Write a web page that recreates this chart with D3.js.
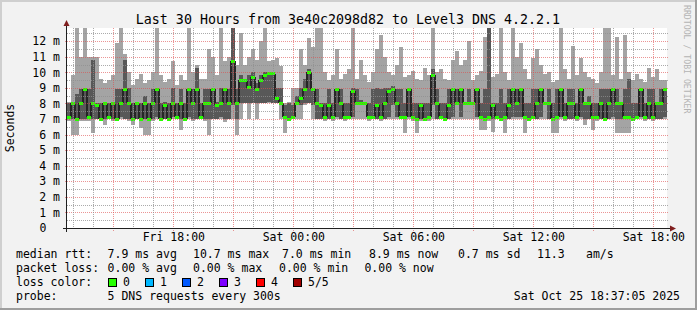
<!DOCTYPE html>
<html><head><meta charset="utf-8">
<script src="https://cdn.jsdelivr.net/npm/d3@7"></script>
<style>
body{margin:0;background:#f2f2f2}
svg{display:block}
text{font-family:"DejaVu Sans Mono",monospace}
</style>
</head><body>
<svg id="chart" width="697" height="310"></svg>
<script>
// ---------- data ----------
const titleText = "Last 30 Hours from 3e40c2098d82 to Level3 DNS 4.2.2.1";
const startTime = new Date(2025, 9, 24, 12, 41);
const endTime = new Date(2025, 9, 25, 18, 41);
const stepMinutes = 12;

const pingMin = [
 6.9,6.0,6.0,6.9,6.9,6.9,6.1,7.0,7.0,6.6,
 7.0,6.9,6.9,7.0,7.0,6.9,6.6,7.0,6.4,6.0,
 6.0,6.9,7.0,6.9,7.0,6.9,7.0,7.0,6.3,7.0,
 7.0,6.9,7.0,7.0,6.9,6.0,7.0,7.0,7.0,6.8,
 7.0,7.0,6.0,7.0,8.0,7.0,8.0,7.0,8.0,8.0,
 8.0,8.0,8.0,7.0,6.1,6.9,7.0,7.0,7.0,7.9,
 8.0,7.0,7.0,7.0,6.9,7.0,6.9,7.0,7.0,6.9,
 7.0,7.0,7.0,7.0,7.0,6.9,7.0,7.0,6.9,7.0,
 7.0,7.0,7.0,7.0,6.1,7.0,6.9,6.1,6.9,7.0,
 6.9,7.0,7.0,7.0,6.9,7.0,7.0,7.0,7.0,7.0,
 7.0,7.0,7.0,6.3,6.3,6.9,6.2,7.0,6.9,6.1,
 7.0,7.0,7.0,7.0,6.1,6.9,7.0,7.0,7.0,7.0,
 7.0,6.1,6.1,7.0,6.9,7.0,7.0,6.9,7.0,6.6,
 7.0,6.3,6.9,7.0,6.9,7.0,7.0,6.1,6.1,6.1,
 6.1,6.9,7.0,7.0,6.9,7.0,6.9,7.0,7.0,7.0
];
const pingLow = [
 7.0,7.0,7.0,7.0,7.0,7.0,7.0,7.0,7.0,7.0,
 7.0,7.0,7.0,7.1,7.0,7.0,7.0,7.0,7.0,7.0,
 7.0,7.0,7.1,7.0,7.0,7.0,7.1,7.0,7.0,7.0,
 7.1,7.0,7.0,7.0,7.0,7.0,7.0,7.0,7.1,7.0,
 7.0,7.9,7.0,8.0,8.0,8.0,8.0,8.0,8.0,8.0,
 8.1,8.0,8.0,7.9,7.0,7.0,7.0,7.9,7.9,8.0,
 8.0,7.9,7.0,7.0,7.0,7.0,7.0,7.1,7.0,7.0,
 7.0,7.1,7.9,7.9,7.9,7.0,7.0,7.0,7.0,7.0,
 7.1,7.9,7.1,7.0,7.0,7.1,7.0,7.0,7.0,7.0,
 7.0,7.9,7.0,7.0,7.0,7.0,7.1,7.9,7.1,7.9,
 7.9,7.9,7.1,7.0,7.0,7.0,7.0,7.0,7.0,7.0,
 7.0,7.1,7.1,7.1,7.0,7.0,7.0,7.0,7.1,7.9,
 7.0,7.0,7.0,7.1,7.0,7.0,7.0,7.0,7.1,7.0,
 7.0,7.0,7.0,7.0,7.0,7.0,7.1,7.0,7.0,7.0,
 7.0,7.0,7.0,7.1,7.0,7.0,7.0,7.0,7.0,7.1
];
const pingMedian = [
 7.1,8.0,7.0,8.0,8.9,7.1,8.0,7.9,7.0,8.0,
 7.1,8.0,7.0,8.0,8.9,8.0,7.0,8.0,7.0,8.0,
 7.0,8.0,8.9,7.0,7.9,7.0,8.0,7.1,8.0,7.0,
 8.9,8.0,8.9,7.1,8.0,8.0,8.9,7.9,8.0,8.9,
 8.0,10.7,8.0,9.5,9.5,9.0,9.7,8.9,9.5,9.8,
 9.9,9.9,8.3,8.0,7.1,7.0,7.1,8.0,8.3,8.9,
 10.0,8.9,8.0,7.9,7.1,7.9,7.1,8.9,8.0,7.1,
 7.1,8.8,8.0,8.0,8.0,7.1,7.1,7.9,7.1,8.0,
 8.8,8.9,8.0,7.1,7.1,8.9,7.1,7.0,7.9,7.0,
 7.1,9.8,8.0,7.1,7.0,7.9,8.9,8.0,8.9,8.0,
 8.0,8.0,8.9,7.1,7.0,7.1,7.9,7.1,7.0,7.1,
 7.9,8.9,8.0,8.9,7.1,7.0,7.1,8.0,8.9,8.0,
 8.0,7.0,7.1,8.9,7.1,8.0,8.0,7.1,8.9,8.0,
 8.0,7.1,7.1,8.0,7.0,8.0,8.9,8.0,8.0,7.1,
 7.1,7.0,7.1,8.9,7.1,8.0,7.1,8.0,8.0,8.9
];
const pingHigh = [
 8.0,8.1,8.6,8.9,9.0,8.9,10.8,8.0,8.0,8.0,
 8.0,8.1,8.9,8.9,10.8,9.0,8.0,8.1,8.0,8.5,
 8.0,8.9,9.0,8.0,8.1,8.0,9.0,8.0,8.9,8.0,
 9.0,8.9,10.3,8.0,8.9,8.9,9.0,8.1,9.0,9.0,
 8.9,12.9,8.9,9.8,9.6,9.8,10.0,9.3,9.8,10.0,
 10.0,10.0,9.0,9.0,7.9,8.0,7.9,8.5,9.0,9.6,
 10.2,9.0,8.9,8.0,8.0,8.9,8.0,9.0,8.9,8.0,
 8.0,9.0,8.9,8.2,8.1,8.0,8.9,9.0,8.9,9.0,
 9.0,9.1,8.9,8.9,8.0,9.0,8.0,8.0,8.0,8.0,
 8.0,10.2,8.9,8.0,8.0,8.9,9.0,8.9,9.0,8.1,
 8.9,8.1,9.0,8.0,8.9,12.9,8.0,8.0,8.9,8.0,
 8.9,9.0,8.9,9.0,8.0,8.0,8.9,8.9,9.0,8.1,
 8.9,8.0,8.9,9.0,8.0,8.9,8.9,8.0,9.0,8.1,
 8.5,8.0,8.0,8.9,8.9,8.9,9.0,8.9,8.1,8.9,
 9.6,8.0,8.0,9.0,8.0,8.9,8.9,8.0,8.9,9.0
];
const pingMax = [
 8.1,9.8,12.9,11.0,12.9,11.0,11.0,11.0,9.6,9.3,
 9.5,9.8,11.9,12.9,11.2,10.0,9.2,9.6,9.9,9.3,
 9.5,10.0,12.9,9.8,9.4,9.6,10.7,9.2,9.8,9.5,
 12.9,10.0,10.5,9.6,9.6,11.5,11.0,9.8,12.9,10.7,
 11.0,12.9,10.5,12.5,10.5,11.0,11.5,10.8,12.0,12.9,
 10.7,10.8,10.9,10.4,8.0,8.1,9.0,9.0,11.5,10.5,
 12.2,11.6,12.9,12.9,10.0,9.5,9.8,11.5,9.6,9.9,
 10.2,12.9,9.6,10.8,9.8,9.4,10.0,11.5,12.4,11.0,
 10.0,9.8,10.5,11.6,9.7,9.8,10.1,9.6,9.5,10.3,
 9.8,12.9,10.0,10.2,9.6,9.5,10.8,11.4,10.5,10.8,
 12.0,9.5,9.8,10.1,12.3,12.9,9.7,9.9,12.9,10.0,
 9.5,12.9,11.0,11.9,10.2,9.6,10.9,11.5,10.5,9.9,
 10.0,9.4,9.5,12.9,10.2,9.6,11.7,9.8,10.9,10.0,
 9.7,9.6,9.3,10.0,12.9,12.9,9.8,12.3,9.6,12.4,
 10.0,9.5,9.9,9.6,9.4,10.3,9.7,10.2,9.5,9.5
];

const yTickValues = [0,1,2,3,4,5,6,7,8,9,10,11,12];
const lossLabels = ["0","1","2","3","4","5/5"];
const lossColors = ["#26ff00","#00b8ff","#0059ff","#7e00ff","#ff0000","#a00000"];

const legendRtt = [
  {t:"median rtt:", x:16}, {t:"7.9 ms avg", x:107.6}, {t:"10.7 ms max", x:193},
  {t:"7.0 ms min", x:282}, {t:"8.9 ms now", x:369}, {t:"0.7 ms sd", x:458},
  {t:"11.3", x:537}, {t:"am/s", x:586}
];
const legendLoss = [
  {t:"packet loss:", x:16}, {t:"0.00 % avg", x:107.6}, {t:"0.00 % max", x:193},
  {t:"0.00 % min", x:279}, {t:"0.00 % now", x:364.4}
];
const probeText = "5 DNS requests every 300s";
const stampText = "Sat Oct 25 18:37:05 2025";

// ---------- drawing ----------
const W = 697, H = 310;
const plotL = 67, plotR = 667, plotT = 28, plotB = 228;
const svg = d3.select("#chart");
const FONT = "11.5px";

svg.append("rect").attr("width", W).attr("height", H).attr("fill", "#f2f2f2");
svg.append("rect").attr("x",0).attr("y",0).attr("width",W).attr("height",2).attr("fill","#cfcfcf");
svg.append("rect").attr("x",0).attr("y",0).attr("width",2).attr("height",H).attr("fill","#cfcfcf");
svg.append("rect").attr("x",0).attr("y",H-2).attr("width",W).attr("height",2).attr("fill","#9e9e9e");
svg.append("rect").attr("x",W-2).attr("y",0).attr("width",2).attr("height",H).attr("fill","#9e9e9e");

const x = d3.scaleTime().domain([startTime, endTime]).range([plotL, plotR]);
const y = d3.scaleLinear().domain([0, 12.85]).range([plotB, plotT]);

svg.append("rect").attr("x", plotL).attr("y", plotT)
  .attr("width", plotR - plotL).attr("height", plotB - plotT).attr("fill", "#fff");

const rows = pingMedian.map((m, i) => ({
  t0: d3.timeMinute.offset(startTime, i * stepMinutes),
  t1: d3.timeMinute.offset(startTime, (i + 1) * stepMinutes),
  mn: pingMin[i], lo: pingLow[i], md: m, hi: pingHigh[i], mx: pingMax[i],
  prev: i > 0 ? pingMedian[i - 1] : m
}));

const clipY = v => Math.max(plotT, y(v));
const gData = svg.append("g").attr("shape-rendering", "crispEdges");
gData.selectAll("rect.smoke1").data(rows).join("rect").attr("class","smoke1")
  .attr("x", d => x(d.t0)).attr("width", d => x(d.t1) - x(d.t0))
  .attr("y", d => clipY(d.mx)).attr("height", d => y(d.mn) - clipY(d.mx))
  .attr("fill", "#a4a4a4");
gData.selectAll("rect.smoke2").data(rows).join("rect").attr("class","smoke2")
  .attr("x", d => x(d.t0)).attr("width", d => x(d.t1) - x(d.t0))
  .attr("y", d => clipY(d.hi)).attr("height", d => y(d.lo) - clipY(d.hi))
  .attr("fill", "#585858");
gData.selectAll("rect.trans").data(rows.filter(d => Math.abs(d.md - d.prev) > 0.3)).join("rect").attr("class","trans")
  .attr("x", d => x(d.t0) - 1).attr("width", 2)
  .attr("y", d => y(Math.max(d.md, d.prev))).attr("height", d => Math.abs(y(d.md) - y(d.prev)))
  .attr("fill", "#262626");
gData.selectAll("rect.med").data(rows).join("rect").attr("class","med")
  .attr("x", d => x(d.t0)).attr("width", d => x(d.t1) - x(d.t0))
  .attr("y", d => y(d.md) - 1.5).attr("height", 3)
  .attr("fill", lossColors[0]);

const gGrid = svg.append("g").attr("shape-rendering", "crispEdges");
const minorY = d3.range(0.5, 12.85, 0.5).filter(v => v % 1 !== 0);
gGrid.selectAll("line.hmin").data(minorY).join("line")
  .attr("x1", plotL).attr("x2", plotR + 1)
  .attr("y1", d => Math.round(y(d)) + 0.5).attr("y2", d => Math.round(y(d)) + 0.5)
  .attr("stroke", "rgba(143,143,143,0.75)").attr("stroke-dasharray", "1,1");
gGrid.selectAll("line.hmaj").data(yTickValues.filter(v => v > 0)).join("line")
  .attr("x1", plotL - 2).attr("x2", plotR + 1)
  .attr("y1", d => Math.round(y(d)) + 0.5).attr("y2", d => Math.round(y(d)) + 0.5)
  .attr("stroke", "rgba(222,79,79,0.6)").attr("stroke-dasharray", "1,1");
const hours = d3.timeHour.range(startTime, endTime);
gGrid.selectAll("line.vmin").data(hours.filter(h => h.getHours() % 3 !== 0)).join("line")
  .attr("x1", d => Math.round(x(d)) + 0.5).attr("x2", d => Math.round(x(d)) + 0.5)
  .attr("y1", plotT).attr("y2", plotB)
  .attr("stroke", "rgba(143,143,143,0.75)").attr("stroke-dasharray", "1,1");
gGrid.selectAll("line.vmaj").data(hours.filter(h => h.getHours() % 3 === 0)).join("line")
  .attr("x1", d => Math.round(x(d)) + 0.5).attr("x2", d => Math.round(x(d)) + 0.5)
  .attr("y1", plotT).attr("y2", plotB + 3)
  .attr("stroke", "rgba(222,79,79,0.6)").attr("stroke-dasharray", "1,1");

const axisCol = "#1f1f1f", arrowCol = "#801f1f";
svg.append("line").attr("x1", plotL - 0.5).attr("x2", plotL - 0.5).attr("y1", plotB + 4).attr("y2", plotT - 6)
  .attr("stroke", axisCol).attr("shape-rendering","crispEdges");
svg.append("line").attr("x1", plotL - 4).attr("x2", plotR + 4).attr("y1", plotB + 0.5).attr("y2", plotB + 0.5)
  .attr("stroke", axisCol).attr("shape-rendering","crispEdges");
svg.append("path").attr("d", `M${plotL-3.5},${plotT-2} L${plotL+2.5},${plotT-2} L${plotL-0.5},${plotT-8} Z`).attr("fill", arrowCol);
svg.append("path").attr("d", `M${plotR+3},${plotB-2.5} L${plotR+3},${plotB+3.5} L${plotR+9},${plotB+0.5} Z`).attr("fill", arrowCol);

const yAxis = d3.axisLeft(y).tickValues(yTickValues).tickSize(0).tickPadding(7)
  .tickFormat(d => d === 0 ? "0" : d + " m");
const gy = svg.append("g").attr("transform", `translate(${plotL},0)`).call(yAxis);
gy.select(".domain").remove();
gy.selectAll("text").attr("font-family", "DejaVu Sans Mono").attr("font-size", FONT).attr("fill", "#000")
  .attr("x", d => d === 0 ? -20.5 : -7);

const xAxis = d3.axisBottom(x).tickValues(hours.filter(h => h.getHours() % 6 === 0))
  .tickSize(0).tickPadding(5).tickFormat(d3.timeFormat("%a %H:%M"));
const gx = svg.append("g").attr("transform", `translate(0,${plotB})`).call(xAxis);
gx.select(".domain").remove();
gx.selectAll("text").attr("font-family", "DejaVu Sans Mono").attr("font-size", FONT).attr("fill", "#000");

svg.append("text").attr("x", 348).attr("y", 24).attr("text-anchor", "middle")
  .attr("font-size", "13.3px").attr("fill", "#000").text(titleText);
svg.append("text").attr("transform", "translate(14,128) rotate(-90)").attr("text-anchor", "middle")
  .attr("font-size", FONT).attr("fill", "#000").text("Seconds");
svg.append("text").attr("transform", "translate(684,5) rotate(90)").attr("text-anchor", "start")
  .attr("font-size", "8.2px").attr("fill", "#b4b4b4").text("RRDTOOL / TOBI OETIKER");

const gl = svg.append("g").attr("font-size", FONT).attr("fill", "#000");
gl.selectAll("text.r1").data(legendRtt).join("text").attr("class","r1")
  .attr("x", d => d.x).attr("y", 258).text(d => d.t);
gl.selectAll("text.r2").data(legendLoss).join("text").attr("class","r2")
  .attr("x", d => d.x).attr("y", 272).text(d => d.t);
gl.append("text").attr("x", 16).attr("y", 286).text("loss color:");
gl.selectAll("rect.lc").data(lossColors).join("rect").attr("class","lc")
  .attr("x", (d, i) => 108.5 + 37 * i).attr("y", 278.5).attr("width", 8).attr("height", 8)
  .attr("fill", d => d).attr("stroke", "#000").attr("shape-rendering","crispEdges");
gl.selectAll("text.lcl").data(lossLabels).join("text").attr("class","lcl")
  .attr("x", (d, i) => 123 + 37 * i).attr("y", 286).text(d => d);
gl.append("text").attr("x", 16).attr("y", 300).text("probe:");
gl.append("text").attr("x", 107.6).attr("y", 300).text(probeText);
gl.append("text").attr("x", 680).attr("y", 300).attr("text-anchor", "end").text(stampText);
</script>
</body></html>
